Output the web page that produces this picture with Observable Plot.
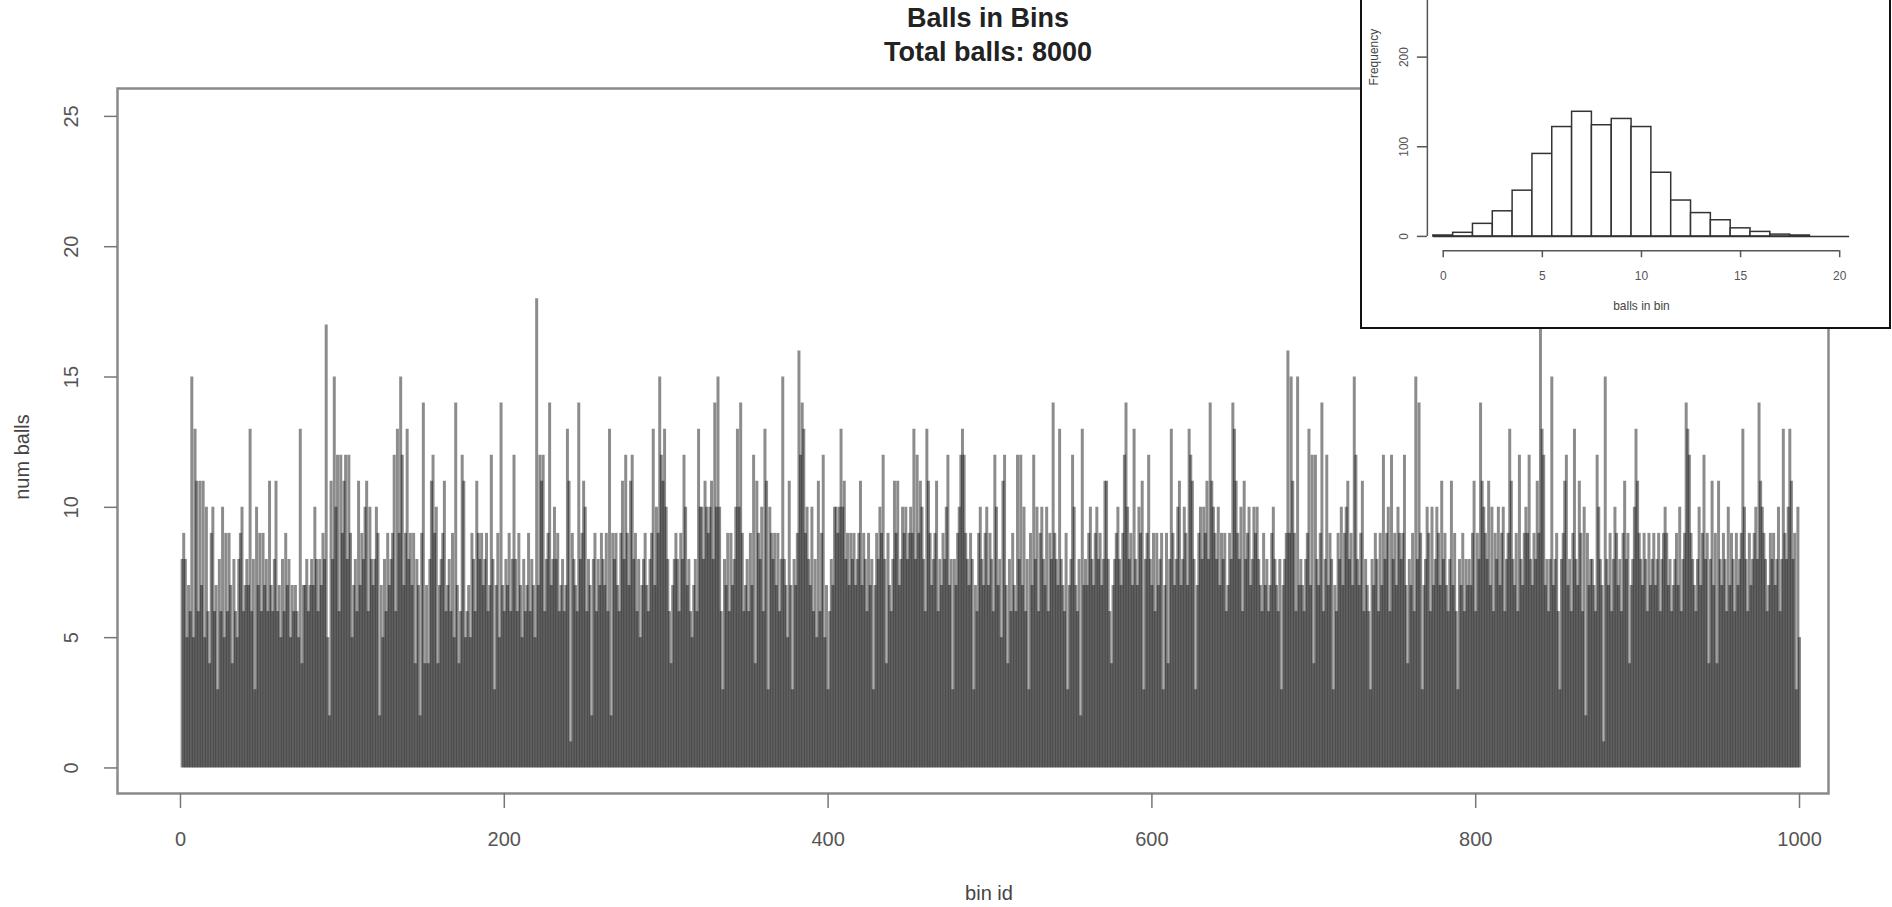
<!DOCTYPE html>
<html><head><meta charset="utf-8">
<script src="https://cdn.jsdelivr.net/npm/d3@7"></script>
<script src="https://cdn.jsdelivr.net/npm/@observablehq/plot@0.6"></script>
<style>
html,body{margin:0;padding:0;background:#fff;overflow:hidden;}
#wrap{position:relative;width:1892px;height:907px;overflow:hidden;font-family:"Liberation Sans",Arial,sans-serif;background:#fff;}
#wrap svg{display:block;}
#main{position:absolute;left:0;top:0;}
.title{position:absolute;left:0;width:1976px;text-align:center;font-weight:bold;font-size:27px;color:#222;line-height:1;white-space:nowrap;}
#inset{position:absolute;left:1360px;top:-10px;width:531px;height:339px;box-sizing:border-box;border:2px solid #111;background:#fff;overflow:hidden;}
#insetPlot{position:absolute;left:-1px;top:-142px;}
</style></head><body>
<div id="wrap">
  <div id="main"></div>
  <div class="title" style="top:5px">Balls in Bins</div>
  <div class="title" style="top:39px">Total balls: 8000</div>
  <div id="inset"><div id="insetPlot"></div></div>
</div>
<script>
// ---- main chart: balls per bin (bins 1..1000) ----
const binsA = [
8,9,8,5,7,6,15,5,13,11,
6,11,7,11,5,10,6,4,9,10,
6,7,3,8,6,10,5,9,6,9,
7,4,8,6,5,8,9,10,6,7,
8,7,13,6,8,3,10,7,9,6,
9,7,8,6,11,7,6,8,11,6,
7,5,8,6,9,7,8,5,7,6,
7,6,5,13,4,7,7,8,6,7,
8,7,10,8,6,8,7,9,8,17,
5,2,11,8,15,10,12,6,12,9,
11,12,8,12,9,5,7,8,6,11,
7,9,8,10,11,6,10,8,7,8,
10,9,2,7,5,8,6,9,7,8,
9,12,6,13,9,15,12,7,9,13,
8,9,7,9,4,8,7,2,9,14,
4,7,4,8,11,12,9,10,4,7,
8,9,11,6,7];
const binsB = [
8,6,9,5,14,7,4,6,12,11,
5,6,7,5,9,8,6,11,9,8,
9,7,8,9,6,7,12,8,3,7,
9,5,14,7,6,8,7,9,6,8,
12,8,6,9,7,5,8,6,7,9,
6,8,7,5,18,7,12,11,12,6,
8,9,14,7,8,10,8,9,6,7,
8,6,7,13,11,1,9,8,7,6,
14,8,9,11,10,6,8,7,2,8,
9,6,8,7,9,8,7,9,6,13,
2,9,8,9,7,6,9,11,8,12,
9,7,11,12,8,9,6,8,5,7,
8,9,7,6,8,9,13,7,10,9,
15,12,11,13,10,8,6,4,7,8,
9,8,6,9,8,12,10,7,8,6,
5,7,8,6,13,10,10,8,11,10,
9,10,11,8,14,10];
const binsC = [
15,10,6,3,8,7,9,6,9,7,
8,10,13,10,14,9,6,7,8,6,
9,7,12,4,11,9,8,10,6,13,
11,3,10,9,8,9,7,9,6,8,
15,8,7,5,11,7,3,8,7,9,
16,12,14,13,9,10,8,7,10,6,
8,5,11,6,9,12,5,7,3,6,
8,7,10,10,9,10,13,10,11,8,
9,7,9,8,9,7,8,9,11,7,
9,8,6,9,7,8,3,7,9,8,
10,9,12,8,4,9,7,6,8,11,
9,11,7,8,10,9,10,8,9,10,
9,13,8,12,9,11,10,8,6,13,
11,9,7,8,9,11,6,8,7,9,
8,10,12,7,8,3,8,7,9,10,
12,13,12,9,8,7,9,8,3,7,
6,9,10,8,7,9,10];
const binsD = [
7,9,8,6,12,10,7,8,5,11,
12,7,4,8,6,9,7,6,12,8,
12,7,10,6,8,3,9,7,12,8,
10,6,9,10,8,7,10,6,9,8,
14,9,8,7,13,8,7,6,9,3,
7,8,12,10,7,6,8,2,13,7,
8,7,9,10,8,7,9,10,8,9,
7,8,11,11,8,6,4,7,8,9,
10,8,7,9,12,14,10,8,9,7,
13,8,7,10,9,11,3,8,9,12,
8,7,9,6,9,7,8,9,3,7,
9,4,8,13,9,7,8,10,11,7,
8,10,9,7,13,12,11,8,3,7,
9,10,8,10,9,11,8,14,11,10,
9,8,10,7,9,8,9,6,7,9,
8,14,13,11,9,8,10,6,11,8,
9,10,7,8,10,9];
const binsE = [
10,8,7,6,9,7,8,6,7,9,
10,8,7,6,8,3,7,8,9,16,
9,15,11,9,6,15,7,8,7,6,
8,9,13,7,12,4,12,8,7,9,
14,6,8,12,7,9,8,3,7,6,
9,8,10,7,9,10,11,8,9,7,
15,12,8,7,9,11,6,8,7,6,
3,8,7,9,8,6,9,7,12,8,
9,10,6,12,8,9,7,10,9,8,
9,12,7,4,8,7,9,6,15,8,
14,9,3,7,8,10,9,6,10,7,
8,10,9,7,11,8,9,7,6,8,
11,7,9,6,3,8,7,9,6,8,
7,8,7,9,11,6,9,8,14,11,
10,9,8,11,7,10,6,9,8,10,
7,9,10,6,8,9,13,11,8,7,
9,6,12,8,7,9,10];
const binsF = [
9,12,8,7,9,8,11,9,17,13,
12,7,8,6,8,15,7,8,9,6,
3,8,9,11,12,7,8,6,9,13,
8,7,11,9,6,10,2,9,7,8,
8,7,6,12,10,8,7,1,15,8,
7,9,6,8,10,9,7,8,6,9,
11,8,9,4,7,8,10,13,11,9,
8,7,9,8,6,9,7,8,9,7,
8,9,6,8,9,10,9,7,8,6,
7,8,9,7,10,6,8,9,14,13,
12,9,8,7,6,8,10,7,9,12,
8,9,4,8,11,7,9,4,11,8,
7,9,8,6,10,7,9,8,6,9,
7,8,9,13,10,8,6,9,7,8,
9,10,8,14,11,10,9,8,6,7,
9,8,9,7,8,10,6,8,13,9,
8,10,13,11,8,9,3,10,5];
const xTicks = [0, 200, 400, 600, 800, 1000];
const yTicks = [0, 5, 10, 15, 20, 25];

// ---- inset histogram: frequency of "balls in bin" ----
const histValues = [0,1,2,3,4,5,6,7,8,9,10,11,12,13,14,15,16,17,18,19,20];
const histCounts = [1,4,14,28,51,92,122,139,124,131,122,71,40,26,18,9,5,2,1,0,0];
const histTicksX = [0, 5, 10, 15, 20];
const histTicksY = [0, 100, 200, 300, 400];
const histTickLabelsY = [0, 100, 200];   // 300 and 400 lie above the picture

const FONT = "Liberation Sans, Arial, Helvetica, sans-serif";
const bins = [...binsA, ...binsB, ...binsC, ...binsD, ...binsE, ...binsF];
const data = bins.map((v, i) => ({bin: i + 1, balls: v}));

const xDom = [-38.9, 1017.9];
const yDom = [-0.98, 26.07];

const main = Plot.plot({
  width: 1892, height: 907,
  marginLeft: 117, marginRight: 64, marginTop: 88, marginBottom: 114,
  x: {domain: xDom},
  y: {domain: yDom},
  style: {fontFamily: FONT, background: "transparent", overflow: "visible"},
  marks: [
    Plot.ruleX(data, {x: "bin", y1: 0, y2: "balls", stroke: "#000", strokeOpacity: 0.45, strokeWidth: 3}),
    Plot.frame({stroke: "#8a8a8a", strokeWidth: 2.5}),
    Plot.axisX({ticks: xTicks, anchor: "bottom", tickSize: 15, tickFormat: () => "", stroke: "#777", strokeWidth: 1.5, label: null}),
    Plot.axisY({ticks: yTicks, anchor: "left", tickSize: 13, tickFormat: () => "", stroke: "#777", strokeWidth: 1.5, label: null}),
    Plot.text(xTicks, {x: d => d, frameAnchor: "bottom", dy: 46, lineAnchor: "middle", textAnchor: "middle", text: d => String(d), fontSize: 20, fill: "#555"}),
    Plot.text(yTicks, {y: d => d, frameAnchor: "left", dx: -46, rotate: -90, lineAnchor: "middle", textAnchor: "middle", text: d => String(d), fontSize: 20, fill: "#555"}),
    Plot.text(["bin id"], {frameAnchor: "bottom", dx: 16, dy: 100, lineAnchor: "middle", textAnchor: "middle", fontSize: 20, fill: "#444"}),
    Plot.text(["num balls"], {frameAnchor: "left", dx: -95, dy: 16, rotate: -90, lineAnchor: "middle", textAnchor: "middle", fontSize: 20, fill: "#444"})
  ]
});
document.getElementById("main").appendChild(main);

const histData = histValues.map((v, i) => ({v, count: histCounts[i]}));
const hxDom = [-0.8, 20.8];
const hyDom = [-16, 416];
const inset = Plot.plot({
  width: 529, height: 478,
  marginLeft: 66, marginRight: 34, marginTop: 13, marginBottom: 77,
  x: {domain: hxDom},
  y: {domain: hyDom},
  style: {fontFamily: FONT, background: "#fff", overflow: "visible"},
  marks: [
    Plot.ruleY([0], {x1: d3.min(histValues) - 0.5, x2: d3.max(histValues) + 0.5, stroke: "#333", strokeWidth: 1.5}),
    Plot.rectY(histData, {x1: d => d.v - 0.5, x2: d => d.v + 0.5, y: "count", fill: "#fff", stroke: "#333", strokeWidth: 1.5}),
    Plot.ruleY([hyDom[0]], {x1: histTicksX[0], x2: histTicksX[histTicksX.length - 1], stroke: "#555", strokeWidth: 1.5}),
    Plot.ruleX([hxDom[0]], {y1: histTicksY[0], y2: histTicksY[histTicksY.length - 1], stroke: "#555", strokeWidth: 1.5}),
    Plot.axisX({ticks: histTicksX, anchor: "bottom", tickSize: 7, tickFormat: () => "", stroke: "#555", strokeWidth: 1.5, label: null}),
    Plot.axisY({ticks: histTicksY, anchor: "left", tickSize: 10, tickFormat: () => "", stroke: "#555", strokeWidth: 1.5, label: null}),
    Plot.text(histTicksX, {x: d => d, frameAnchor: "bottom", dy: 25.6, lineAnchor: "middle", textAnchor: "middle", text: d => String(d), fontSize: 12, fill: "#555"}),
    Plot.text(histTickLabelsY, {y: d => d, frameAnchor: "left", dx: -23.6, rotate: -90, lineAnchor: "middle", textAnchor: "middle", text: d => String(d), fontSize: 12, fill: "#555"}),
    Plot.text(["balls in bin"], {frameAnchor: "bottom", dy: 56, lineAnchor: "middle", textAnchor: "middle", fontSize: 12, fill: "#444"}),
    Plot.text(["Frequency"], {frameAnchor: "left", dx: -53.4, rotate: -90, lineAnchor: "middle", textAnchor: "middle", fontSize: 12, fill: "#444"})
  ]
});
document.getElementById("insetPlot").appendChild(inset);
</script>
</body></html>
